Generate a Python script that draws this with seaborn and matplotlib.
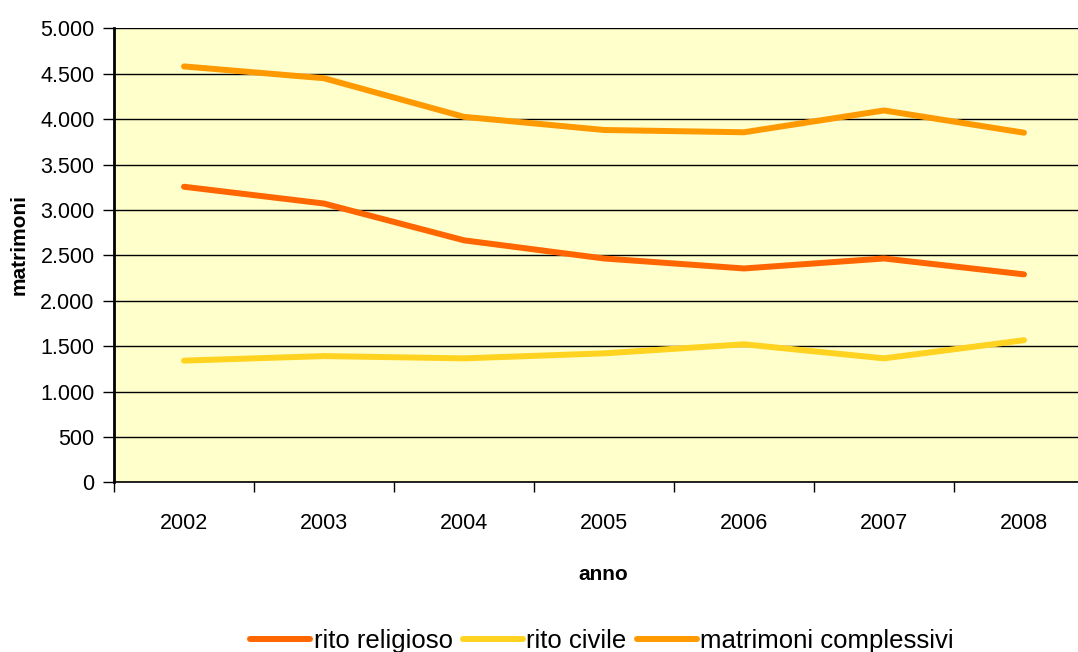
import matplotlib
matplotlib.use("Agg")
import matplotlib.pyplot as plt
from matplotlib.ticker import FixedLocator, FuncFormatter
import seaborn as sns
import pandas as pd

anni = ["2002", "2003", "2004", "2005", "2006", "2007", "2008"]
rito_religioso = [3255, 3070, 2665, 2465, 2355, 2465, 2290]
rito_civile = [1340, 1390, 1365, 1420, 1520, 1365, 1565]
matrimoni_complessivi = [4580, 4450, 4025, 3880, 3855, 4095, 3850]

serie = ["rito religioso", "rito civile", "matrimoni complessivi"]
colori = ["#FF6600", "#FFD320", "#FF9900"]

sns.set_theme(style="white")
plt.rcParams["font.family"] = ["Liberation Sans", "DejaVu Sans"]
plt.rcParams["text.color"] = "black"

righe = []
for nome, valori in zip(serie, [rito_religioso, rito_civile, matrimoni_complessivi]):
    for i, (anno, v) in enumerate(zip(anni, valori)):
        righe.append({"pos": i, "anno": anno, "valore": v, "serie": nome})
df = pd.DataFrame(righe)

fig = plt.figure(figsize=(10.78, 6.52), dpi=100)
ax = fig.add_axes([114 / 1078, 1 - 482.3 / 652, 980 / 1078, 454 / 652])
ax.set_facecolor("#FFFFCC")

sns.lineplot(data=df, x="pos", y="valore", hue="serie", hue_order=serie,
             palette=colori, linewidth=4.3, ax=ax, legend=True)
for ln in ax.lines:
    ln.set_solid_capstyle("round")
    ln.set_solid_joinstyle("round")

ax.set_xlim(-0.5, 6.5)
ax.set_ylim(0, 5000)
ax.yaxis.set_major_locator(FixedLocator(range(0, 5001, 500)))
ax.yaxis.set_major_formatter(FuncFormatter(lambda v, p: f"{int(v):,}".replace(",", ".")))
ax.grid(axis="y", color="black", linewidth=1.0)
ax.set_axisbelow(True)

# category boundaries carry the tick marks, category centres carry the labels
ax.xaxis.set_major_locator(FixedLocator([i - 0.5 for i in range(8)]))
ax.xaxis.set_major_formatter(FuncFormatter(lambda v, p: ""))
ax.set_xticks(range(len(anni)), labels=anni, minor=True)
ax.tick_params(axis="x", which="major", direction="out", length=7, width=1, color="black", bottom=True)
ax.tick_params(axis="x", which="minor", length=0, pad=22, labelsize=15.5, labelcolor="black")
ax.tick_params(axis="y", which="major", direction="out", length=8, width=1, color="black",
               left=True, labelsize=15.5, labelcolor="black", pad=6)

for s in ["top", "right"]:
    ax.spines[s].set_visible(False)
ax.spines["left"].set_color("black")
ax.spines["left"].set_linewidth(2)
ax.spines["bottom"].set_color("black")
ax.spines["bottom"].set_linewidth(1.2)

ax.set_xlabel("")
ax.set_ylabel("")
fig.text(603 / 1078, 1 - 574 / 652, "anno", fontsize=15, fontweight="bold",
         ha="center", va="center", color="black")
fig.text(19 / 1078, 1 - 245 / 652, "matrimoni", fontsize=15, fontweight="bold",
         rotation=90, ha="center", va="center", color="black")

handles, labels = ax.get_legend_handles_labels()
ax.legend_.remove()
leg = fig.legend(handles, labels, loc="center", bbox_to_anchor=(602 / 1078, 1 - 641 / 652),
                 ncol=3, frameon=False, fontsize=18.5, handlelength=2.33, handletextpad=0.15,
                 columnspacing=0.39, borderpad=0, borderaxespad=0)
for h in leg.get_lines():
    h.set_linewidth(4.3)
    h.set_solid_capstyle("round")
for t in leg.get_texts():
    t.set_color("black")

fig.savefig("out.png", dpi=100, facecolor="white")
